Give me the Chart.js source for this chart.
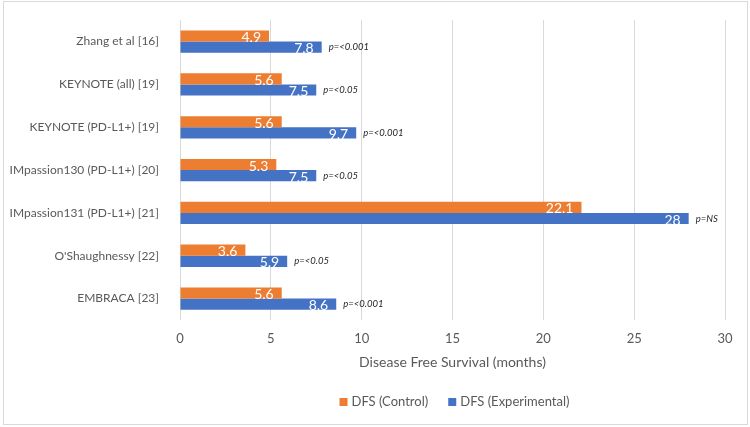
<!DOCTYPE html>
<html>
<head>
  <meta charset="utf-8">
  <script src="https://cdn.jsdelivr.net/npm/chart.js@4.4.1/dist/chart.umd.min.js"></script>
  <style>
    html, body { margin: 0; padding: 0; background: #fff; }
    #wrap { width: 750px; height: 427px; position: relative; }
  </style>
</head>
<body>
  <div id="wrap"><canvas id="chart"></canvas></div>
  <script>
    const studies = ['Zhang et al [16]', 'KEYNOTE (all) [19]', 'KEYNOTE (PD-L1+) [19]',
      'IMpassion130 (PD-L1+) [20]', 'IMpassion131 (PD-L1+) [21]', "O'Shaughnessy [22]", 'EMBRACA [23]'];
    const dfsControl = [4.9, 5.6, 5.6, 5.3, 22.1, 3.6, 5.6];
    const dfsExperimental = [7.8, 7.5, 9.7, 7.5, 28, 5.9, 8.6];
    const pValues = ['p=<0.001', 'p=<0.05', 'p=<0.001', 'p=<0.05', 'p=NS', 'p=<0.05', 'p=<0.001'];
    const xTicks = [0, 5, 10, 15, 20, 25, 30];

    const FONT = 'Lato, "Noto Sans", sans-serif';
    const GREY = '#595959';

    // white frame + border round the chart
    const frame = {
      id: 'frame',
      beforeDraw(chart) {
        const c = chart.ctx;
        c.save();
        c.fillStyle = '#fff';
        c.fillRect(0, 0, chart.width, chart.height);
        c.strokeStyle = '#d9d9d9';
        c.lineWidth = 1;
        c.strokeRect(3.5, 1.5, 744, 423);
        c.restore();
      }
    };

    // value labels inside the bars, p-values after the blue bars
    const labels = {
      id: 'labels',
      afterDatasetsDraw(chart) {
        const c = chart.ctx;
        c.save();
        chart.data.datasets.forEach((ds, i) => {
          chart.getDatasetMeta(i).data.forEach((bar, j) => {
            c.font = '14px ' + FONT;
            c.fillStyle = '#fff';
            c.textAlign = 'right';
            c.textBaseline = 'middle';
            c.fillText(String(ds.data[j]), bar.x - 8, bar.y + 1.5);
            if (i === 1) {
              c.font = 'italic 9.5px ' + FONT;
              c.fillStyle = '#262626';
              c.textAlign = 'left';
              c.fillText(pValues[j], bar.x + 7, bar.y);
            }
          });
        });
        c.restore();
      }
    };

    // legend drawn under the axis title
    const legend = {
      id: 'legendBottom',
      afterDraw(chart) {
        const c = chart.ctx;
        c.save();
        c.font = '13px ' + FONT;
        c.textBaseline = 'middle';
        c.textAlign = 'left';
        const items = chart.data.datasets.map(d => ({ text: d.label, color: d.backgroundColor }));
        const box = 8, gap = 4, spacing = 20;
        let total = 0;
        items.forEach((it, k) => {
          total += box + gap + c.measureText(it.text).width + (k ? spacing : 0);
        });
        let x = (chart.chartArea.left + chart.chartArea.right) / 2 - total / 2 + 2;
        const y = 402;
        items.forEach(it => {
          c.fillStyle = it.color;
          c.fillRect(x, y - box / 2, box, box);
          x += box + gap;
          c.fillStyle = GREY;
          c.fillText(it.text, x, y);
          x += c.measureText(it.text).width + spacing;
        });
        c.restore();
      }
    };

    new Chart(document.getElementById('chart'), {
      type: 'bar',
      data: {
        labels: studies,
        datasets: [
          { label: 'DFS (Control)', data: dfsControl, backgroundColor: '#ED7D31' },
          { label: 'DFS (Experimental)', data: dfsExperimental, backgroundColor: '#4472C4' }
        ]
      },
      options: {
        indexAxis: 'y',
        responsive: true,
        maintainAspectRatio: false,
        animation: false,
        datasets: {
          bar: { categoryPercentage: 0.52, barPercentage: 1.0 }
        },
        layout: { padding: { top: 17, right: 25, bottom: 45, left: 0 } },
        plugins: {
          legend: { display: false },
          tooltip: { enabled: false }
        },
        scales: {
          x: {
            min: 0,
            max: 30,
            afterBuildTicks(s) { s.ticks = xTicks.map(v => ({ value: v })); },
            grid: { color: '#d9d9d9', lineWidth: 1, drawTicks: false },
            border: { display: false },
            ticks: { color: GREY, font: { family: FONT, size: 13 }, padding: 11 },
            title: {
              display: true,
              text: 'Disease Free Survival (months)',
              color: GREY,
              font: { family: FONT, size: 14 },
              padding: { top: 0, bottom: 11 }
            },
            afterFit(s) { s.height = 62; }
          },
          y: {
            grid: { display: false },
            border: { display: false },
            ticks: { color: GREY, font: { family: FONT, size: 12 }, padding: 13 },
            afterFit(s) { s.width = 180; }
          }
        }
      },
      plugins: [frame, labels, legend]
    });
  </script>
</body>
</html>
